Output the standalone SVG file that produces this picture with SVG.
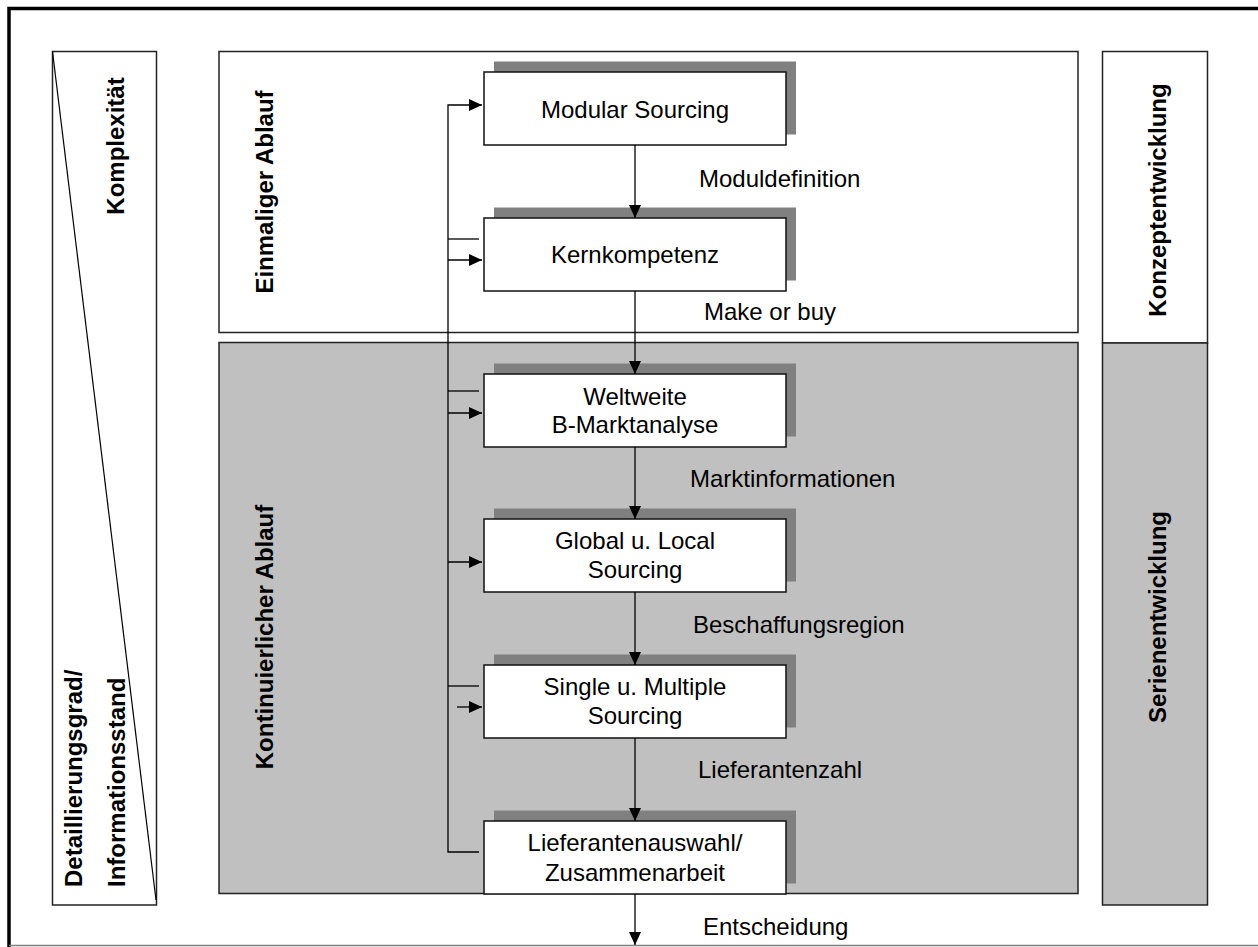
<svg xmlns="http://www.w3.org/2000/svg" width="1258" height="947" viewBox="0 0 1258 947">
<defs>
<style>
.frame{fill:#ffffff;stroke:#222;stroke-width:1.5}
.gray{fill:#c0c0c0;stroke:#222;stroke-width:1.5}
.box{fill:#ffffff;stroke:#111;stroke-width:1.5}
.sh{fill:#808080}
.t{font-family:"Liberation Sans",Arial,sans-serif;font-size:24px;fill:#000}
.c{text-anchor:middle}
.b{font-family:"Liberation Sans",Arial,sans-serif;font-size:24px;font-weight:bold;fill:#000}
.ln{fill:none;stroke:#000;stroke-width:1.3}
</style>
<marker id="ah" markerUnits="userSpaceOnUse" markerWidth="14" markerHeight="14" viewBox="0 0 14 14" refX="13" refY="7" orient="auto">
<path d="M0,1 L13,7 L0,13 Z" fill="#000"/>
</marker>
</defs>
<rect width="1258" height="947" fill="#ffffff"/>
<path d="M9,947 V8.5 H1258" fill="none" stroke="#000" stroke-width="3.5"/>
<line x1="9" y1="945.5" x2="1258" y2="945.5" stroke="#808080" stroke-width="1.5"/>

<g id="left-bar">
<rect x="52.5" y="51.5" width="104" height="853.5" class="frame"/>
<line x1="52.5" y1="51.5" x2="156" y2="900" stroke="#000" stroke-width="1.2"/>
<text class="b" text-anchor="middle" transform="translate(124,146) rotate(-90)">Komplexität</text>
<text class="b" transform="translate(82,887) rotate(-90)">Detaillierungsgrad/</text>
<text class="b" transform="translate(125,887) rotate(-90)">Informationsstand</text>
</g>

<g id="panel-einmalig">
<rect x="219" y="51.5" width="859" height="281" class="frame"/>
<text class="b" text-anchor="middle" transform="translate(273,192) rotate(-90)">Einmaliger Ablauf</text>
</g>
<g id="panel-kontinuierlich">
<rect x="219" y="342.5" width="859" height="551" class="gray"/>
<text class="b" text-anchor="middle" transform="translate(273,637) rotate(-90)">Kontinuierlicher Ablauf</text>
</g>

<g id="right-konzept">
<rect x="1102.5" y="51.5" width="105" height="291.5" class="frame"/>
<text class="b" text-anchor="middle" transform="translate(1166,200) rotate(-90)">Konzeptentwicklung</text>
</g>
<g id="right-serie">
<rect x="1102.5" y="343" width="105" height="562" class="gray"/>
<text class="b" text-anchor="middle" transform="translate(1166,617) rotate(-90)">Serienentwicklung</text>
</g>

<g id="n1">
<rect x="494" y="61.5" width="302" height="73" class="sh"/>
<rect x="484" y="72" width="302" height="73" class="box"/>
<text class="t c" x="635" y="118">Modular Sourcing</text>
</g>
<g id="n2">
<rect x="494" y="207.5" width="302" height="73" class="sh"/>
<rect x="484" y="218" width="302" height="73" class="box"/>
<text class="t c" x="635" y="263">Kernkompetenz</text>
</g>
<g id="n3">
<rect x="494" y="363.5" width="302" height="73" class="sh"/>
<rect x="484" y="374" width="302" height="73" class="box"/>
<text class="t c" x="635" y="405">Weltweite</text>
<text class="t c" x="635" y="433">B-Marktanalyse</text>
</g>
<g id="n4">
<rect x="494" y="508.5" width="302" height="73" class="sh"/>
<rect x="484" y="519" width="302" height="73" class="box"/>
<text class="t c" x="635" y="549">Global u. Local</text>
<text class="t c" x="635" y="578">Sourcing</text>
</g>
<g id="n5">
<rect x="494" y="654.5" width="302" height="73" class="sh"/>
<rect x="484" y="665" width="302" height="73" class="box"/>
<text class="t c" x="635" y="695">Single u. Multiple</text>
<text class="t c" x="635" y="724">Sourcing</text>
</g>
<g id="n6">
<rect x="494" y="810.5" width="302" height="73" class="sh"/>
<rect x="484" y="821" width="302" height="73" class="box"/>
<text class="t c" x="635" y="851">Lieferantenauswahl/</text>
<text class="t c" x="635" y="881">Zusammenarbeit</text>
</g>

<g id="connectors">
<line x1="635" y1="145" x2="635" y2="218" class="ln" marker-end="url(#ah)"/>
<line x1="635" y1="291" x2="635" y2="374" class="ln" marker-end="url(#ah)"/>
<line x1="635" y1="447" x2="635" y2="519" class="ln" marker-end="url(#ah)"/>
<line x1="635" y1="592" x2="635" y2="665" class="ln" marker-end="url(#ah)"/>
<line x1="635" y1="738" x2="635" y2="821" class="ln" marker-end="url(#ah)"/>
<line x1="635" y1="894" x2="635" y2="945" class="ln" marker-end="url(#ah)"/>
<path d="M479,852 H448 V105 H482" class="ln" marker-end="url(#ah)"/>
<line x1="448" y1="239" x2="479" y2="239" class="ln"/>
<line x1="448" y1="260" x2="482" y2="260" class="ln" marker-end="url(#ah)"/>
<line x1="448" y1="391" x2="479" y2="391" class="ln"/>
<line x1="448" y1="413" x2="482" y2="413" class="ln" marker-end="url(#ah)"/>
<line x1="448" y1="562" x2="482" y2="562" class="ln" marker-end="url(#ah)"/>
<line x1="448" y1="686" x2="479" y2="686" class="ln"/>
<line x1="457" y1="707" x2="482" y2="707" class="ln" marker-end="url(#ah)"/>
<text class="t" x="699" y="187">Moduldefinition</text>
<text class="t" x="704" y="320">Make or buy</text>
<text class="t" x="690" y="487">Marktinformationen</text>
<text class="t" x="693" y="633">Beschaffungsregion</text>
<text class="t" x="698" y="778">Lieferantenzahl</text>
<text class="t" x="703" y="935">Entscheidung</text>
</g>
</svg>
